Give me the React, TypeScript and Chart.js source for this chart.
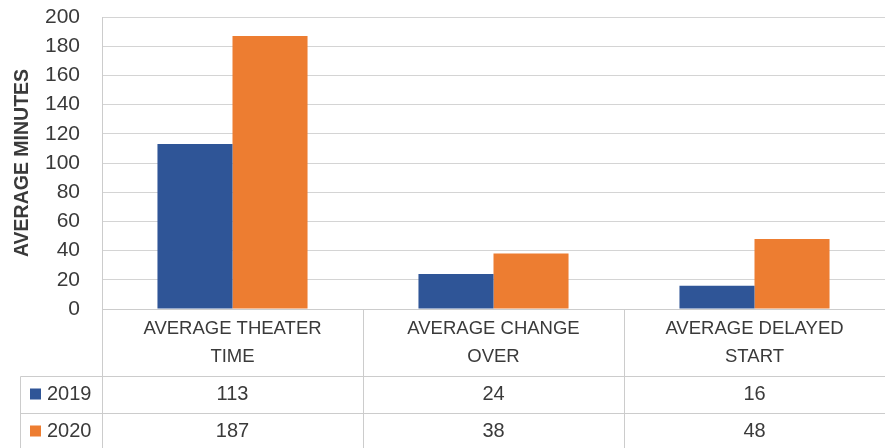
import { useEffect, useRef } from "react";
import { Chart, registerables } from "chart.js";

Chart.register(...registerables);

const categoryLines: string[][] = [
  ["AVERAGE THEATER", "TIME"],
  ["AVERAGE CHANGE", "OVER"],
  ["AVERAGE DELAYED", "START"],
];
const seriesNames = ["2019", "2020"];
const values2019 = [113, 24, 16];
const values2020 = [187, 38, 48];
const seriesValues = [values2019, values2020];
const seriesColors = ["#2F5597", "#ED7D31"];
const yTitle = "AVERAGE MINUTES";
const yMin = 0;
const yMax = 200;
const yStep = 20;

const TEXT = "#3a3a3a";
const LINE = "#cccccc";
const FONT = "'Liberation Sans', Arial, sans-serif";

const tablePlugin = {
  id: "dataTable",
  afterDraw(chart: any) {
    const ctx: CanvasRenderingContext2D = chart.ctx;
    const x = chart.scales.x;
    const area = chart.chartArea;
    const n = categoryLines.length;
    const cw = (x.right - x.left) / n;
    const top = Math.round(area.bottom);
    const r1 = top + 67;
    const r2 = r1 + 37;
    const bottom = chart.height;
    const legendLeft = 20;
    ctx.save();
    ctx.strokeStyle = LINE;
    ctx.lineWidth = 1;
    const line = (x1: number, y1: number, x2: number, y2: number) => {
      ctx.beginPath();
      ctx.moveTo(Math.round(x1) + 0.5, Math.round(y1) + 0.5);
      ctx.lineTo(Math.round(x2) + 0.5, Math.round(y2) + 0.5);
      ctx.stroke();
    };
    line(x.left, top, x.right, top);
    line(legendLeft, r1, x.right, r1);
    line(legendLeft, r2, x.right, r2);
    line(x.left, top, x.left, bottom);
    for (let i = 1; i < n; i++) line(x.left + i * cw, top, x.left + i * cw, bottom);
    line(legendLeft, r1, legendLeft, bottom);

    ctx.fillStyle = TEXT;
    ctx.textAlign = "center";
    ctx.textBaseline = "middle";
    ctx.font = `18.5px ${FONT}`;
    for (let i = 0; i < n; i++) {
      const cx = x.getPixelForValue(i);
      const lines = categoryLines[i];
      lines.forEach((t, k) => ctx.fillText(t, cx, top + 20 + k * 28));
    }
    ctx.font = `20px ${FONT}`;
    const rowCenters = [(r1 + r2) / 2, (r2 + bottom) / 2 + 1];
    seriesValues.forEach((vals, s) => {
      const cy = rowCenters[s];
      vals.forEach((v, i) => {
        ctx.fillStyle = TEXT;
        ctx.fillText(String(v), x.getPixelForValue(i), cy);
      });
      ctx.fillStyle = seriesColors[s];
      ctx.fillRect(legendLeft + 10, cy - 6, 11, 11);
      ctx.fillStyle = TEXT;
      ctx.textAlign = "left";
      ctx.fillText(seriesNames[s], legendLeft + 27, cy);
      ctx.textAlign = "center";
    });
    ctx.restore();
  },
};

export default function App() {
  const ref = useRef<HTMLCanvasElement | null>(null);
  useEffect(() => {
    if (!ref.current) return;
    const chart = new Chart(ref.current, {
      type: "bar",
      data: {
        labels: categoryLines.map((l) => l.join(" ")),
        datasets: seriesNames.map((name, s) => ({
          label: name,
          data: seriesValues[s],
          backgroundColor: seriesColors[s],
          borderWidth: 0,
          barPercentage: 1,
          categoryPercentage: 0.575,
        })),
      },
      options: {
        responsive: false,
        animation: false,
        devicePixelRatio: 1,
        layout: { padding: { top: 17, bottom: 139, left: 0, right: 0 } },
        plugins: { legend: { display: false }, tooltip: { enabled: false } },
        scales: {
          x: { display: false },
          y: {
            min: yMin,
            max: yMax,
            afterFit: (scale: any) => {
              scale.width = 102;
              scale.paddingTop = 0;
              scale.paddingBottom = 0;
            },
            ticks: {
              stepSize: yStep,
              padding: 22,
              color: TEXT,
              font: { family: FONT, size: 21 },
            },
            grid: { color: "#d4d4d4", drawTicks: false },
            border: { display: true, color: LINE },
            title: {
              display: true,
              text: yTitle,
              color: TEXT,
              font: { family: FONT, size: 19.5, weight: "bold" },
              padding: { top: 11, bottom: 0 },
            },
          },
        },
      },
      plugins: [tablePlugin],
    });
    return () => chart.destroy();
  }, []);
  return (
    <div style={{ position: "fixed", left: 0, top: 0, width: 885, height: 448, background: "#fff" }}>
      <canvas ref={ref} width={885} height={448} style={{ display: "block" }} />
    </div>
  );
}
